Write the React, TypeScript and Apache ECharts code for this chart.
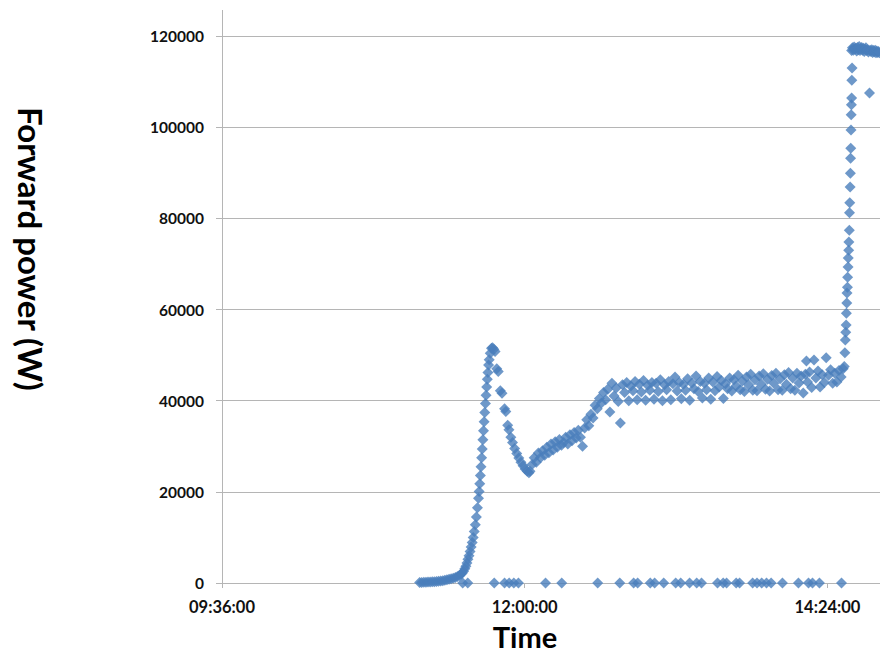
import React, { useEffect, useRef } from "react";
import * as echarts from "echarts";

// Time values are minutes since midnight; power in W
const xTickLabels = ["09:36:00", "12:00:00", "14:24:00"];
const yTickLabels = ["0", "20000", "40000", "60000", "80000", "100000", "120000"];

const riseTimes = [670.0, 671.0, 672.0, 673.0, 674.0, 675.0, 676.0, 677.0, 678.0, 679.0, 680.0, 681.0, 682.0, 683.0, 684.0, 685.0, 686.0, 687.0, 688.0, 689.0, 689.7, 690.3, 690.9, 691.5, 692.0, 692.5, 693.0, 693.5, 694.0, 694.5, 695.0, 695.5, 696.0, 696.5, 697.0, 697.5, 698.0, 698.3, 698.6, 698.9, 699.2, 699.5, 699.8, 700.1, 700.4, 700.7, 701.0, 701.3, 701.6, 701.9, 702.2, 702.5, 702.8, 703.1, 703.6, 704.2, 704.7];
const risePowers = [100, 120, 150, 180, 200, 230, 260, 300, 350, 400, 450, 520, 600, 700, 800, 920, 1050, 1200, 1400, 1650, 1900, 2200, 2600, 3100, 3700, 4400, 5200, 6000, 6900, 7900, 8900, 10000, 11300, 12800, 14500, 16500, 18600, 20100, 21800, 23600, 25500, 27500, 29400, 31400, 33400, 35400, 37400, 39400, 41200, 43000, 44700, 46200, 47800, 49000, 50400, 51500, 51600];

const fallTimes = [705.3, 705.9, 706.7, 707.4, 708.4, 709.2, 710.4, 711.0, 711.9, 712.5, 713.4, 714.2, 715.2, 716.2, 717.2, 718.2, 719.2, 720.2, 721.2, 722.0];
const fallPowers = [51300, 50800, 47000, 46400, 42200, 41600, 38200, 37600, 34600, 33600, 32000, 30800, 29500, 28400, 27400, 26500, 25700, 25000, 24500, 24200];

const recoverTimes = [722.5, 723.5, 724.5, 725.5, 726.5, 727.5, 728.5, 729.5, 730.5, 731.5, 732.5, 733.5, 734.5, 735.5, 736.5, 737.5, 738.5, 739.5, 740.5, 741.5, 742.5, 743.5, 744.5, 745.5, 746.5, 747.5, 748.5, 749.5, 750.5, 751.5, 752.5, 753.5, 754.5, 755.5, 756.5, 757.5, 758.5, 759.5, 760.5, 761.5, 762.5, 763.5, 764.5, 765.5];
const recoverPowers = [24500, 26000, 27500, 26500, 28500, 27500, 29000, 28000, 29800, 28600, 30500, 29200, 31000, 29800, 31500, 30200, 30800, 32000, 30500, 32500, 31200, 33000, 31800, 33500, 32000, 30000, 34000, 35800, 34500, 37000, 36200, 39000, 38200, 40500, 39500, 41800, 40200, 42500, 37500, 43800, 41000, 42800, 39800, 35100];

const plateauTimes = [766.5, 767.5, 768.5, 769.5, 770.5, 771.5, 772.5, 773.5, 774.5, 775.5, 776.5, 777.5, 778.5, 779.5, 780.5, 781.5, 782.5, 783.5, 784.5, 785.5, 786.5, 787.5, 788.5, 789.5, 790.5, 791.5, 792.5, 793.5, 794.5, 795.5, 796.5, 797.5, 798.5, 799.5, 800.5, 801.5, 802.5, 803.5, 804.5, 805.5, 806.5, 807.5, 808.5, 809.5, 810.5, 811.5, 812.5, 813.5, 814.5, 815.5, 816.5, 817.5, 818.5, 819.5, 820.5, 821.5, 822.5, 823.5, 824.5, 825.5, 826.5, 827.5, 828.5, 829.5, 830.5, 831.5, 832.5, 833.5, 834.5, 835.5, 836.5, 837.5, 838.5, 839.5, 840.5, 841.5, 842.5, 843.5, 844.5, 845.5, 846.5, 847.5, 848.5, 849.5, 850.5, 851.5, 852.5, 853.5, 854.0, 854.5, 855.5, 856.5, 857.6, 858.5, 859.5, 860.5, 861.5, 862.5, 863.4, 864.5, 865.5, 866.5, 867.5, 868.5, 869.5, 870.5, 871.5];
const plateauPowers = [43500, 41800, 44000, 40000, 43200, 42200, 44200, 40200, 43600, 41900, 44400, 40100, 43400, 42300, 44000, 40300, 43800, 42000, 44600, 40000, 43500, 42400, 44200, 40200, 43700, 45200, 42100, 44000, 40400, 43600, 42300, 44800, 40100, 43900, 42600, 45400, 42000, 44200, 40600, 43800, 42400, 45000, 40300, 44100, 42200, 45300, 43000, 44400, 40500, 43700, 42600, 45000, 42100, 44600, 43200, 45600, 42400, 44300, 42000, 45200, 43500, 45800, 42300, 44600, 42200, 45400, 43600, 45900, 42500, 44700, 42100, 45500, 43800, 46000, 42400, 44800, 42300, 45700, 43600, 46200, 42600, 45000, 42300, 46000, 43900, 45400, 41700, 45800, 48700, 44100, 46300, 42900, 48900, 45000, 46500, 43000, 45700, 44000, 49400, 45600, 46800, 43800, 46000, 44100, 46600, 45200, 47000];

const jumpTimes = [872.0, 872.3, 872.5, 872.7, 872.9, 873.0, 873.2, 873.3, 873.5, 873.6, 873.8, 873.9, 874.1, 874.2, 874.4, 874.5, 874.6, 874.8, 874.9, 875.0, 875.1, 875.2, 875.3, 875.4, 875.5, 875.6, 875.7];
const jumpPowers = [47500, 50500, 53300, 55000, 56600, 59200, 61400, 63600, 64900, 67100, 69300, 71300, 73000, 74800, 77400, 81200, 83400, 86900, 89900, 93200, 95400, 99400, 102700, 104900, 106400, 110300, 113000];

const topTimes = [875.5, 875.9, 876.3, 876.7, 877.1, 877.5, 877.9, 878.3, 878.7, 879.1, 879.5, 879.9, 880.3, 880.7, 881.1, 881.5, 881.9, 882.3, 882.7, 883.1, 883.5, 884.0, 884.3, 884.7, 885.1, 885.5, 885.9, 886.3, 886.7, 887.1, 887.5, 887.9, 888.3, 888.7];
const topPowers = [116800, 117400, 116900, 117600, 117100, 117300, 116700, 117500, 117000, 117700, 116800, 117200, 117500, 116900, 117300, 116600, 117100, 117400, 116800, 117000, 116500, 107500, 116900, 116600, 117000, 116400, 116800, 116500, 116900, 116300, 116700, 116400, 116600, 116300];

const zeroTimes = [690.5, 692.9, 705.5, 710.4, 712.6, 714.8, 717.0, 729.9, 737.6, 754.7, 765.2, 771.8, 773.7, 779.7, 781.8, 786.1, 791.8, 794.2, 798.4, 801.8, 804.1, 811.7, 814.4, 816.0, 820.6, 822.2, 828.4, 830.5, 832.7, 835.0, 837.2, 842.6, 850.2, 855.0, 856.9, 860.2, 870.7];

const X_MIN = 576;
const X_MAX = 889;
const X_INTERVAL = 144;

function pairs(ts: number[], vs: number[]) {
  return ts.map((t, i) => [t, vs[i]]);
}

function fmtTime(v: number) {
  const h = Math.floor(v / 60);
  const m = Math.round(v - h * 60);
  const p = (n: number) => (n < 10 ? "0" + n : "" + n);
  return p(h) + ":" + p(m) + ":00";
}

export default function App() {
  const ref = useRef<HTMLDivElement>(null);
  useEffect(() => {
    document.body.style.margin = "0";
    if (!ref.current) return;
    const chart = echarts.init(ref.current, undefined, { renderer: "svg" });
    const data = [
      ...pairs(riseTimes, risePowers),
      ...pairs(fallTimes, fallPowers),
      ...pairs(recoverTimes, recoverPowers),
      ...pairs(plateauTimes, plateauPowers),
      ...pairs(jumpTimes, jumpPowers),
      ...pairs(topTimes, topPowers),
      ...zeroTimes.map((t) => [t, 0]),
    ];
    const gridLeft = 222;
    const gridTop = 36;
    const lineColor = "#b5b5b5";
    const fontFamily = "Lato, 'Open Sans', sans-serif";
    chart.setOption({
      animation: false,
      backgroundColor: "#ffffff",
      grid: { left: gridLeft, right: 0, top: gridTop, bottom: 71, containLabel: false },
      xAxis: {
        type: "value",
        min: X_MIN,
        max: X_MAX,
        interval: X_INTERVAL,
        axisLine: { show: true, lineStyle: { color: lineColor, width: 1 } },
        axisTick: { show: true, length: 5, lineStyle: { color: lineColor } },
        splitLine: { show: false },
        axisLabel: {
          fontFamily,
          fontWeight: "bold",
          fontSize: 16.5,
          color: "#111111",
          margin: 15,
          showMaxLabel: false,
          formatter: (v: number) => {
            const idx = Math.round((v - X_MIN) / X_INTERVAL);
            return xTickLabels[idx] ?? fmtTime(v);
          },
        },
      },
      yAxis: {
        type: "value",
        min: 0,
        max: 120000,
        interval: 20000,
        axisLine: { show: true, lineStyle: { color: lineColor, width: 1 } },
        axisTick: { show: true, length: 6, lineStyle: { color: lineColor } },
        splitLine: { show: true, lineStyle: { color: lineColor, width: 1 } },
        axisLabel: {
          fontFamily,
          fontWeight: "bold",
          fontSize: 15.5,
          color: "#111111",
          margin: 18,
          formatter: (v: number) => {
            const idx = Math.round(v / 20000);
            return yTickLabels[idx] ?? String(v);
          },
        },
      },
      graphic: [
        {
          type: "line",
          shape: { x1: gridLeft + 0.5, y1: 10, x2: gridLeft + 0.5, y2: gridTop },
          style: { stroke: lineColor, lineWidth: 1 },
          silent: true,
        },
        {
          type: "text",
          x: 31,
          y: 249,
          rotation: -Math.PI / 2,
          style: {
            text: "Forward power (W)",
            fontFamily,
            fontWeight: "bold",
            fontSize: 33,
            fill: "#000000",
            align: "center",
            verticalAlign: "middle",
          },
        },
        {
          type: "text",
          x: 525,
          y: 636,
          style: {
            text: "Time",
            fontFamily,
            fontWeight: "bold",
            fontSize: 29,
            fill: "#000000",
            align: "center",
            verticalAlign: "middle",
          },
        },
      ],
      series: [
        {
          type: "scatter",
          symbol: "diamond",
          symbolSize: [11, 11],
          itemStyle: { color: "#4A7EBB" },
          data,
          clip: true,
        },
      ],
    });
    return () => chart.dispose();
  }, []);
  return <div ref={ref} style={{ width: 880, height: 654 }} />;
}
